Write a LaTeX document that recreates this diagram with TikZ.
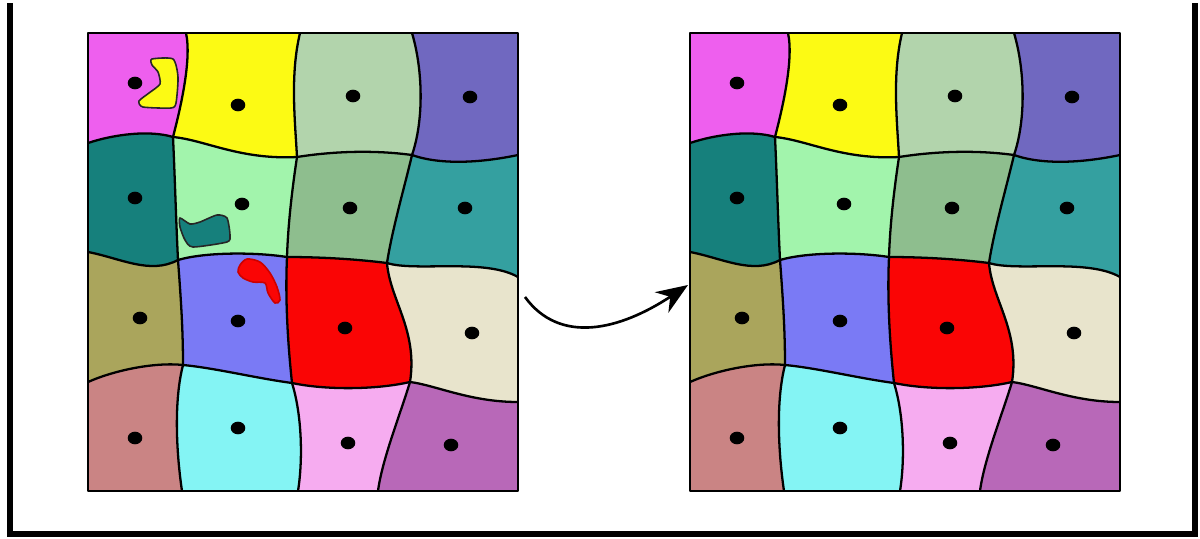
\documentclass[tikz,border=0pt]{standalone}
\usepackage{tikz}
\usetikzlibrary{arrows.meta,shapes.geometric}
\definecolor{cellmagenta}{RGB}{238,95,238}
\definecolor{cellyellow}{RGB}{252,250,20}
\definecolor{cellsage}{RGB}{178,212,172}
\definecolor{cellslate}{RGB}{112,104,192}
\definecolor{cellteal}{RGB}{22,128,124}
\definecolor{cellmint}{RGB}{162,244,172}
\definecolor{cellmoss}{RGB}{142,190,142}
\definecolor{cellsea}{RGB}{52,160,160}
\definecolor{cellolive}{RGB}{170,165,92}
\definecolor{cellblue}{RGB}{122,122,245}
\definecolor{cellred}{RGB}{250,5,5}
\definecolor{cellbeige}{RGB}{232,228,204}
\definecolor{cellrose}{RGB}{202,132,132}
\definecolor{cellaqua}{RGB}{132,244,244}
\definecolor{cellpink}{RGB}{246,172,240}
\definecolor{cellorchid}{RGB}{184,104,184}

\begin{document}
\begin{tikzpicture}[x=0.02cm,y=-0.02cm,
  edge/.style={line width=1.3pt,line join=round},
  site/.style={ellipse,fill=black,inner sep=0pt,minimum width=8.3pt,minimum height=7.2pt},
  flow/.style={-{Stealth[length=18pt,width=14pt]},line width=1.5pt},
  blob/.style={line width=0.9pt}]
\fill[white] (0,0) rectangle (1200,538);
\draw[line width=3pt] (10,3) -- (10,534) -- (1195,534) -- (1195,3);
% the same cells twice, before and after
\foreach \gx in {0,602} {
\begin{scope}[shift={(\gx,0)}]
% junctions
\foreach \n/\x/\y in {J00/88/33, J10/186/33, J20/300/33, J30/412/33, J40/518/33,
    J01/88/143, J11/173/137, J21/297/157, J31/412/155, J41/518/155,
    J02/88/252, J12/178/260, J22/287/257, J32/387/263, J42/518/277,
    J03/88/382, J13/183/365, J23/292/383, J33/410/382, J43/518/402,
    J04/88/491, J14/182/491, J24/298/491, J34/378/491, J44/518/491}
  \coordinate (\n) at (\x,\y);
% controls of the outer edges
\foreach \n/\x/\y in {h00-a/88/33, h00-b/186/33, h10-a/186/33, h10-b/300/33,
    h20-a/300/33, h20-b/412/33, h30-a/412/33, h30-b/518/33,
    h04-a/88/491, h04-b/182/491, h14-a/182/491, h14-b/298/491,
    h24-a/298/491, h24-b/378/491, h34-a/378/491, h34-b/518/491,
    v00-a/88/33, v00-b/88/143, v01-a/88/143, v01-b/88/252,
    v02-a/88/252, v02-b/88/382, v03-a/88/382, v03-b/88/491,
    v40-a/518/33, v40-b/518/155, v41-a/518/155, v41-b/518/277,
    v42-a/518/277, v42-b/518/402, v43-a/518/402, v43-b/518/491}
  \coordinate (\n) at (\x,\y);
% controls of the inner edges
\foreach \n/\x/\y in {h01-a/115/134, h01-b/150/130, h11-a/205/140, h11-b/240/160,
    h21-a/335/151, h21-b/375/150, h31-a/440/165, h31-b/480/163,
    h02-a/120/258, h02-b/150/275, h12-a/205/252, h12-b/255/252,
    h22-a/320/257, h22-b/355/259, h32-a/415/272, h32-b/485/258,
    h03-a/115/370, h03-b/155/362, h13-a/215/368, h13-b/255/378,
    h23-a/325/390, h23-b/375/390, h33-a/435/385, h33-b/470/402,
    v10-a/192/60, v10-b/180/110, v11-a/175/180, v11-b/176/220,
    v12-a/181/300, v12-b/183/330, v13-a/174/400, v13-b/176/450,
    v20-a/290/75, v20-b/295/120, v21-a/292/190, v21-b/288/225,
    v22-a/285/300, v22-b/288/345, v23-a/302/415, v23-b/303/460,
    v30-a/423/70, v30-b/424/120, v31-a/405/185, v31-b/392/230,
    v32-a/390/300, v32-b/418/330, v33-a/400/415, v33-b/382/460}
  \coordinate (\n) at (\x,\y);
% cells
\foreach \i/\j/\c in {0/0/cellmagenta, 1/0/cellyellow, 2/0/cellsage, 3/0/cellslate,
    0/1/cellteal, 1/1/cellmint, 2/1/cellmoss, 3/1/cellsea,
    0/2/cellolive, 1/2/cellblue, 2/2/cellred, 3/2/cellbeige,
    0/3/cellrose, 1/3/cellaqua, 2/3/cellpink, 3/3/cellorchid} {
  \pgfmathtruncatemacro\inext{\i+1}
  \pgfmathtruncatemacro\jnext{\j+1}
  \fill[\c] (J\i\j) .. controls (h\i\j-a) and (h\i\j-b) .. (J\inext\j)
    .. controls (v\inext\j-a) and (v\inext\j-b) .. (J\inext\jnext)
    .. controls (h\i\jnext-b) and (h\i\jnext-a) .. (J\i\jnext)
    .. controls (v\i\j-b) and (v\i\j-a) .. cycle;
}
% borders
\foreach \j in {1,2,3}
  \draw[edge] (J0\j) .. controls (h0\j-a) and (h0\j-b) .. (J1\j)
    .. controls (h1\j-a) and (h1\j-b) .. (J2\j)
    .. controls (h2\j-a) and (h2\j-b) .. (J3\j)
    .. controls (h3\j-a) and (h3\j-b) .. (J4\j);
\foreach \i in {1,2,3}
  \draw[edge] (J\i0) .. controls (v\i0-a) and (v\i0-b) .. (J\i1)
    .. controls (v\i1-a) and (v\i1-b) .. (J\i2)
    .. controls (v\i2-a) and (v\i2-b) .. (J\i3)
    .. controls (v\i3-a) and (v\i3-b) .. (J\i4);
\draw[edge] (J00) rectangle (J44);
% sites
\foreach \n/\x/\y in {s00/135/83, s10/238/105, s20/353/96, s30/470/97,
    s01/135/198, s11/242/204, s21/350/208, s31/465/208,
    s02/140/318, s12/238/321, s22/345/328, s32/472/333,
    s03/135/438, s13/238/428, s23/348/443, s33/451/445}
  \node[site] (\n) at (\x,\y) {};
\end{scope}
}
% stray pieces, left only
\draw[blob,fill=cellyellow,draw=black!85] plot[smooth cycle,tension=0.4] coordinates {(152,59) (173,59) (178,77) (176,103) (171,108) (143,107) (139,101) (149,93) (160,84) (158,72) (152,65)};
\draw[blob,fill=cellteal,draw=black!85] plot[smooth cycle,tension=0.4] coordinates {(180,218) (190,224) (200,222) (217,215) (227,218) (230,235) (227,242) (193,247) (185,240) (180,227)};
\draw[blob,fill=cellred,draw=red!80!black] plot[smooth cycle,tension=0.5] coordinates {(240,265) (247,259) (260,262) (270,273) (277,287) (280,300) (275,303) (268,293) (265,283) (253,282) (243,278) (238,272)};
\coordinate (src) at (525,297);
\coordinate (dst) at (688,285);
\draw[flow] (src) .. controls (560,345) and (620,330) .. (dst);
\end{tikzpicture}
\end{document}
